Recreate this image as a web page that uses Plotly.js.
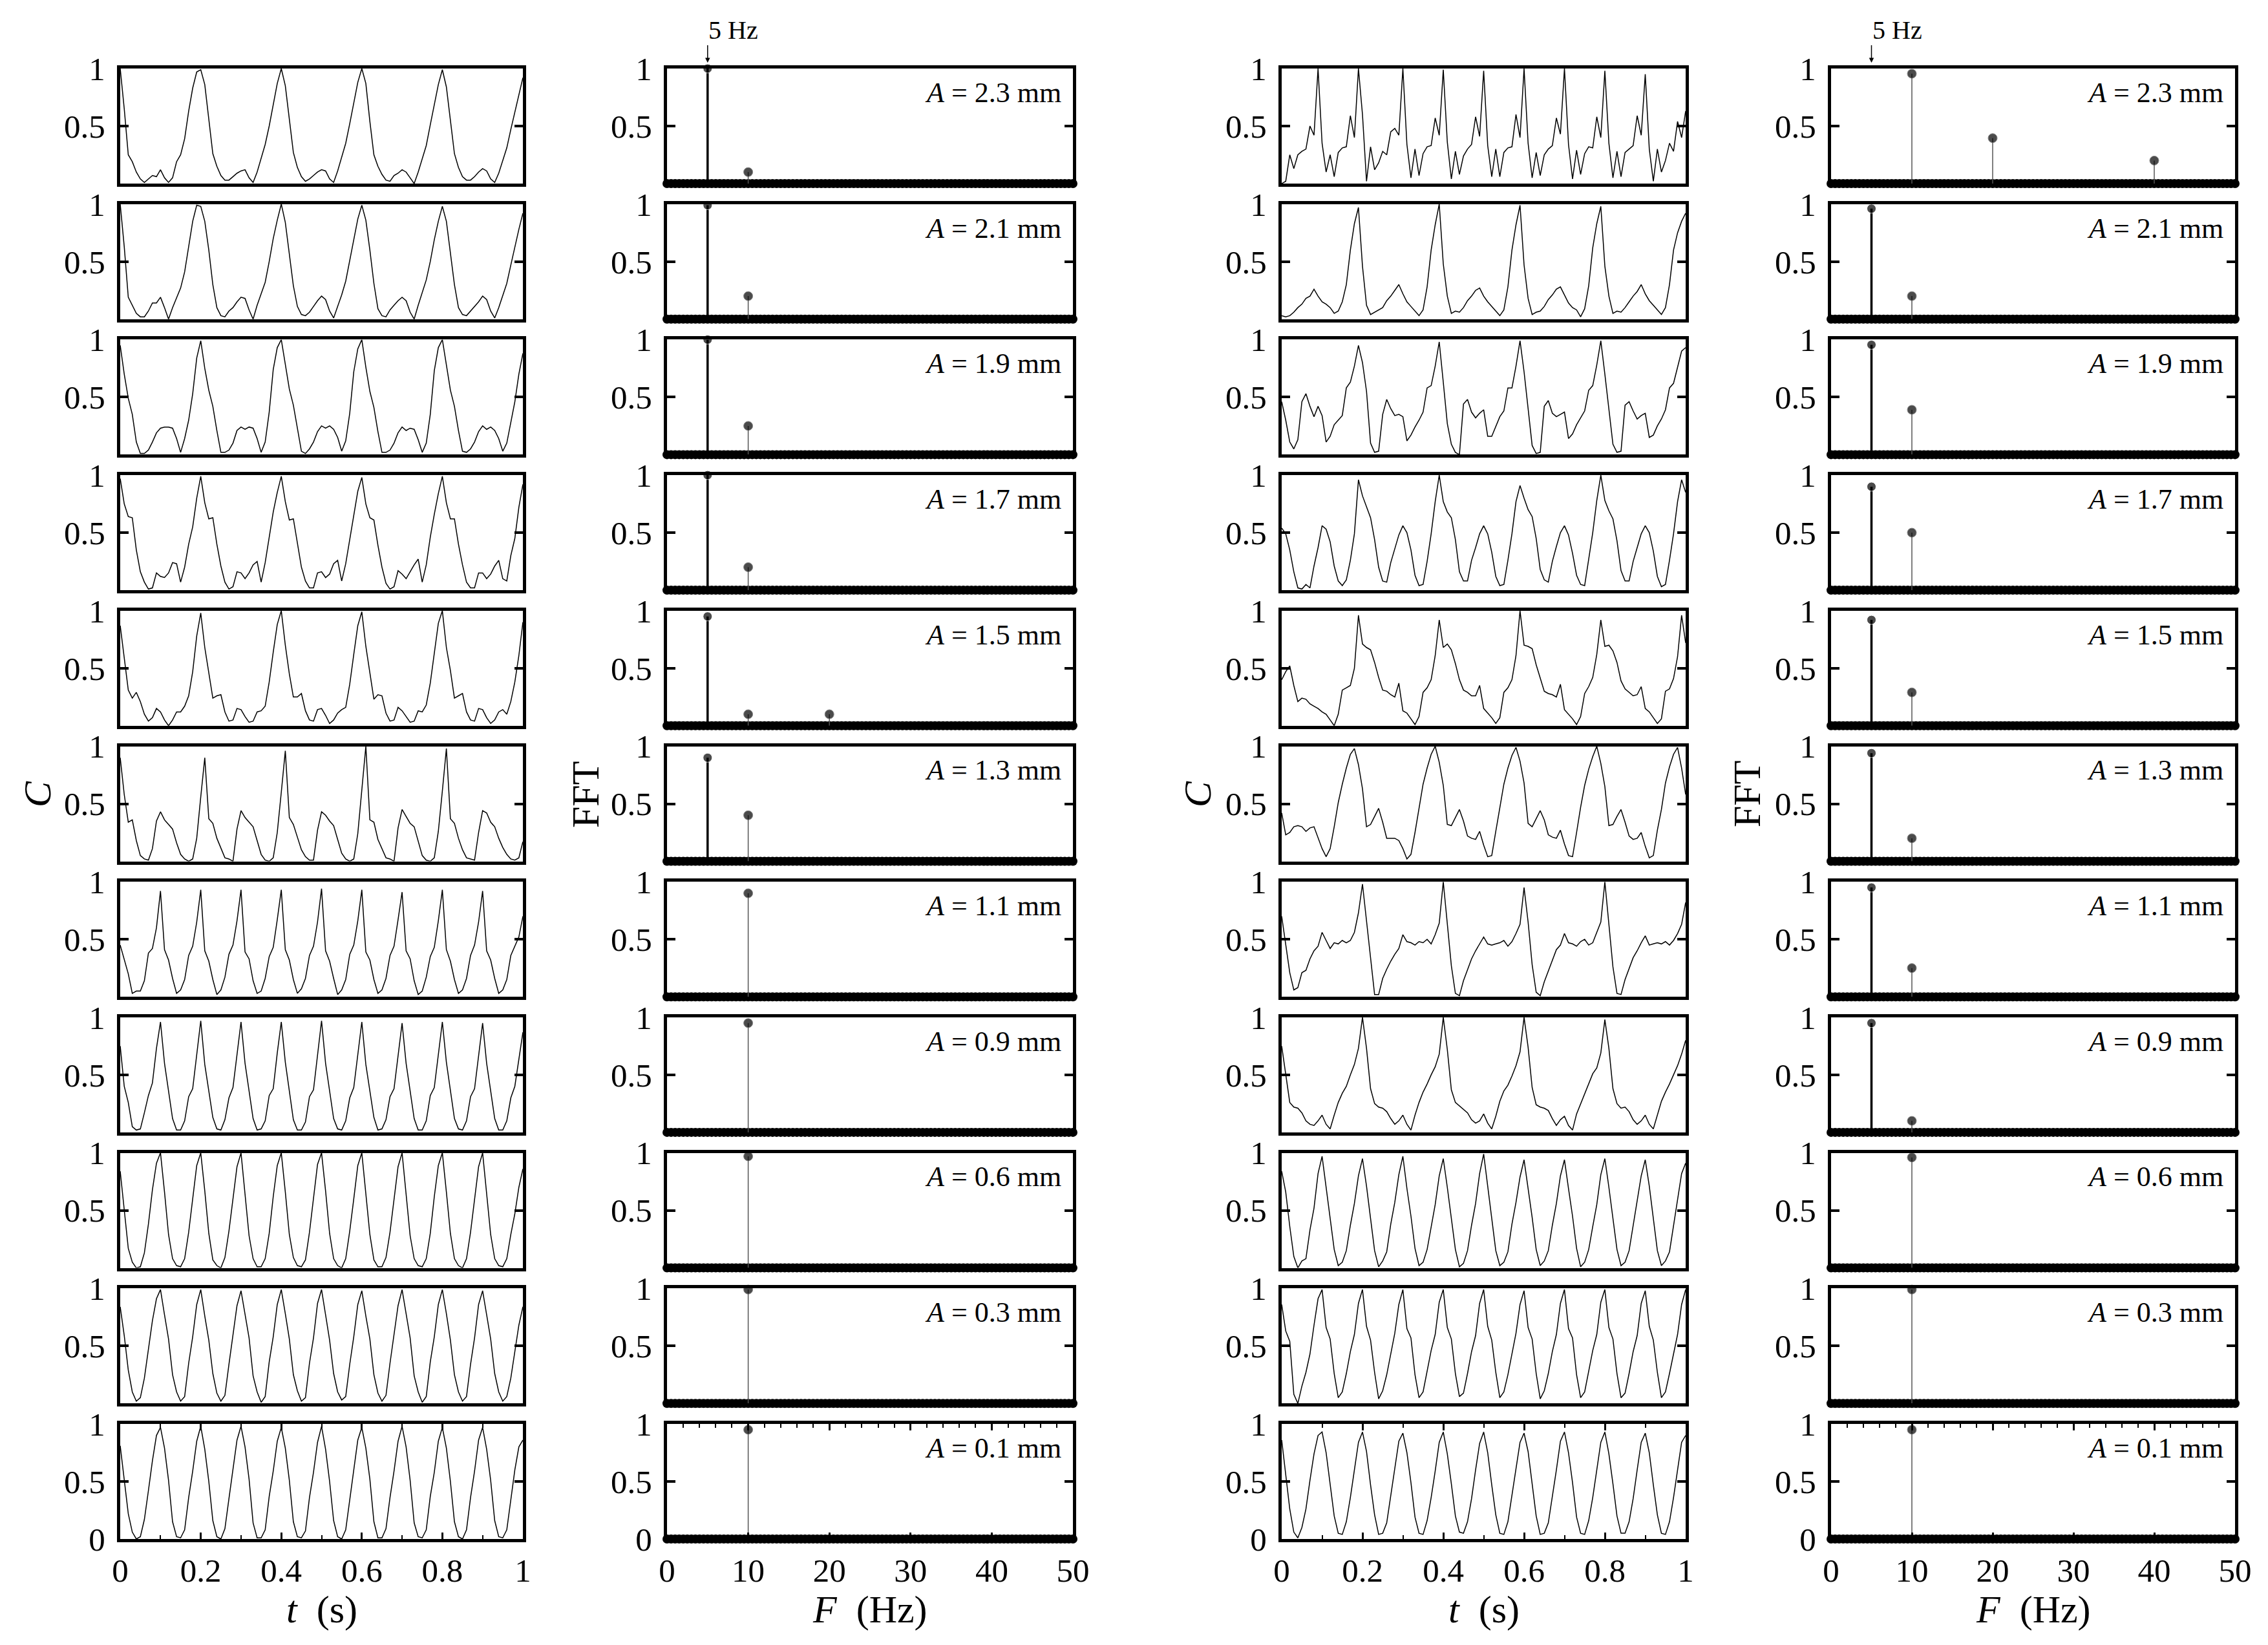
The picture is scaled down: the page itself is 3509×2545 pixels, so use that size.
<!DOCTYPE html>
<html>
<head>
<meta charset="utf-8">
<script src="https://cdn.plot.ly/plotly-3.0.1.min.js"></script>
<style>html,body{margin:0;padding:0;background:#fff;}#chart{width:3509px;height:2545px;}</style>
</head>
<body>
<div id="chart"></div>
<script>
// ---------------- DATA ----------------
const timeS = [0,0.01,0.02,0.03,0.04,0.05,0.06,0.07,0.08,0.09,0.1,0.11,0.12,0.13,0.14,0.15,0.16,0.17,0.18,0.19,
0.2,0.21,0.22,0.23,0.24,0.25,0.26,0.27,0.28,0.29,0.3,0.31,0.32,0.33,0.34,0.35,0.36,0.37,0.38,0.39,
0.4,0.41,0.42,0.43,0.44,0.45,0.46,0.47,0.48,0.49,0.5,0.51,0.52,0.53,0.54,0.55,0.56,0.57,0.58,0.59,
0.6,0.61,0.62,0.63,0.64,0.65,0.66,0.67,0.68,0.69,0.7,0.71,0.72,0.73,0.74,0.75,0.76,0.77,0.78,0.79,
0.8,0.81,0.82,0.83,0.84,0.85,0.86,0.87,0.88,0.89,0.9,0.91,0.92,0.93,0.94,0.95,0.96,0.97,0.98,0.99,1.0];

const ampLabels = ['2.3','2.1','1.9','1.7','1.5','1.3','1.1','0.9','0.6','0.3','0.1'];

const timeTickVals = [0,0.2,0.4,0.6,0.8,1];
const timeTickText = ['0','0.2','0.4','0.6','0.8','1'];
const freqTickVals = [0,10,20,30,40,50];
const freqTickText = ['0','10','20','30','40','50'];

// left time series (A = 2.3 ... 0.1 mm)
const cL_23 = [1.0,0.65,0.25,0.19,0.1,0.04,0.01,0.04,0.07,0.06,0.12,0.05,0.01,0.05,0.19,0.25,0.39,0.63,0.83,0.97,
0.99,0.86,0.55,0.26,0.15,0.07,0.03,0.03,0.06,0.09,0.11,0.12,0.05,0.01,0.1,0.22,0.34,0.5,0.68,0.87,
1.0,0.85,0.56,0.27,0.14,0.06,0.02,0.04,0.07,0.1,0.12,0.11,0.04,0.01,0.11,0.23,0.35,0.52,0.7,0.88,
1.0,0.87,0.54,0.25,0.15,0.08,0.03,0.02,0.07,0.09,0.12,0.1,0.05,0.0,0.1,0.21,0.33,0.51,0.69,0.86,
0.99,0.84,0.55,0.26,0.14,0.06,0.03,0.03,0.06,0.1,0.13,0.11,0.04,0.01,0.09,0.2,0.31,0.47,0.62,0.78,
0.92];
const cL_21 = [1.0,0.63,0.19,0.12,0.05,0.02,0.02,0.07,0.14,0.14,0.19,0.1,0.0,0.1,0.19,0.27,0.41,0.63,0.85,0.99,
0.98,0.85,0.6,0.3,0.1,0.03,0.02,0.07,0.1,0.15,0.19,0.18,0.08,0.0,0.12,0.22,0.32,0.5,0.7,0.86,
1.0,0.84,0.58,0.29,0.11,0.04,0.03,0.06,0.11,0.16,0.2,0.17,0.07,0.01,0.11,0.21,0.33,0.51,0.71,0.87,
0.99,0.86,0.6,0.31,0.09,0.03,0.02,0.08,0.12,0.16,0.19,0.16,0.06,0.0,0.12,0.23,0.34,0.5,0.69,0.85,
0.98,0.85,0.59,0.3,0.1,0.04,0.03,0.07,0.11,0.15,0.2,0.17,0.07,0.01,0.1,0.2,0.31,0.47,0.63,0.78,
0.92];
const cL_19 = [0.95,0.7,0.49,0.35,0.11,0.01,0.01,0.04,0.11,0.19,0.23,0.24,0.24,0.23,0.14,0.02,0.14,0.3,0.53,0.84,
0.99,0.75,0.56,0.42,0.21,0.02,0.02,0.04,0.1,0.21,0.24,0.22,0.24,0.23,0.14,0.02,0.11,0.37,0.74,0.93,
1.0,0.78,0.57,0.43,0.22,0.03,0.01,0.05,0.11,0.2,0.25,0.23,0.25,0.22,0.15,0.03,0.12,0.36,0.72,0.92,
1.0,0.76,0.55,0.41,0.2,0.02,0.02,0.04,0.1,0.19,0.24,0.21,0.23,0.22,0.13,0.02,0.1,0.35,0.73,0.93,
1.0,0.77,0.56,0.42,0.21,0.03,0.02,0.05,0.11,0.2,0.25,0.22,0.24,0.21,0.14,0.03,0.1,0.28,0.46,0.7,
0.88];
const cL_17 = [0.97,0.75,0.64,0.63,0.35,0.16,0.07,0.01,0.02,0.15,0.12,0.11,0.15,0.24,0.23,0.07,0.2,0.4,0.55,0.8,
0.99,0.76,0.62,0.63,0.4,0.21,0.07,0.01,0.03,0.16,0.15,0.1,0.15,0.22,0.25,0.07,0.24,0.45,0.68,0.85,
0.99,0.77,0.61,0.62,0.41,0.2,0.08,0.02,0.02,0.15,0.16,0.11,0.14,0.23,0.26,0.08,0.23,0.44,0.67,0.86,
0.98,0.75,0.63,0.61,0.39,0.2,0.06,0.01,0.03,0.17,0.14,0.1,0.16,0.22,0.27,0.07,0.22,0.46,0.66,0.84,
0.99,0.76,0.62,0.62,0.4,0.22,0.07,0.02,0.02,0.15,0.15,0.1,0.14,0.21,0.26,0.1,0.08,0.3,0.45,0.72,
0.92];
const cL_15 = [0.87,0.59,0.31,0.24,0.29,0.21,0.1,0.04,0.07,0.15,0.12,0.05,0.0,0.05,0.12,0.12,0.17,0.26,0.47,0.78,
0.98,0.68,0.47,0.24,0.26,0.27,0.12,0.04,0.05,0.15,0.14,0.08,0.03,0.04,0.12,0.13,0.17,0.38,0.64,0.88,
1.0,0.7,0.45,0.25,0.25,0.28,0.13,0.05,0.04,0.14,0.15,0.09,0.02,0.05,0.11,0.14,0.16,0.36,0.62,0.87,
0.99,0.69,0.46,0.23,0.27,0.26,0.11,0.04,0.05,0.16,0.13,0.08,0.03,0.04,0.13,0.12,0.18,0.37,0.63,0.89,
1.0,0.68,0.48,0.24,0.26,0.28,0.12,0.05,0.04,0.15,0.14,0.07,0.02,0.05,0.12,0.14,0.1,0.21,0.38,0.61,
0.9];
const cL_13 = [0.9,0.58,0.34,0.36,0.18,0.05,0.02,0.01,0.11,0.35,0.43,0.36,0.32,0.28,0.16,0.06,0.02,0.0,0.02,0.2,0.56,
0.9,0.37,0.33,0.2,0.11,0.03,0.02,0.0,0.28,0.44,0.38,0.34,0.3,0.18,0.06,0.01,0.0,0.03,0.25,0.6,
0.96,0.38,0.32,0.21,0.1,0.04,0.01,0.01,0.27,0.43,0.4,0.35,0.31,0.19,0.07,0.02,0.0,0.02,0.24,0.62,
1.0,0.36,0.34,0.19,0.11,0.03,0.02,0.0,0.29,0.45,0.39,0.33,0.3,0.17,0.05,0.01,0.0,0.03,0.26,0.61,
0.98,0.37,0.33,0.2,0.1,0.03,0.02,0.01,0.25,0.44,0.42,0.34,0.3,0.2,0.12,0.06,0.02,0.01,0.03,0.17];
const cL_11 = [0.45,0.33,0.2,0.03,0.05,0.05,0.14,0.38,0.42,0.6,
0.92,0.41,0.32,0.16,0.03,0.06,0.15,0.36,0.44,0.65,
0.93,0.4,0.31,0.15,0.02,0.06,0.17,0.37,0.45,0.66,
0.93,0.39,0.33,0.14,0.03,0.05,0.16,0.35,0.43,0.67,
0.93,0.41,0.32,0.15,0.03,0.07,0.16,0.36,0.44,0.65,
0.94,0.4,0.31,0.16,0.02,0.06,0.15,0.37,0.45,0.66,
0.93,0.39,0.32,0.15,0.03,0.06,0.16,0.36,0.44,0.67,
0.91,0.4,0.33,0.14,0.02,0.05,0.17,0.35,0.43,0.66,
0.93,0.41,0.31,0.15,0.03,0.06,0.16,0.36,0.45,0.65,
0.92,0.4,0.32,0.16,0.03,0.06,0.15,0.36,0.44,0.52,
0.7];
const cL_09 = [0.75,0.4,0.26,0.05,0.02,0.03,0.17,0.32,0.43,0.73,
0.96,0.6,0.36,0.12,0.02,0.02,0.1,0.31,0.38,0.68,
0.97,0.59,0.37,0.13,0.03,0.02,0.11,0.3,0.39,0.67,
0.96,0.6,0.35,0.12,0.02,0.03,0.1,0.32,0.38,0.69,
0.96,0.61,0.36,0.11,0.02,0.02,0.09,0.31,0.37,0.68,
0.97,0.6,0.37,0.12,0.03,0.02,0.1,0.3,0.39,0.68,
0.96,0.59,0.36,0.13,0.02,0.03,0.11,0.31,0.38,0.67,
0.95,0.6,0.35,0.12,0.02,0.02,0.1,0.32,0.39,0.69,
0.96,0.61,0.36,0.12,0.03,0.02,0.1,0.31,0.38,0.68,
0.95,0.6,0.36,0.12,0.02,0.02,0.1,0.3,0.4,0.65,
0.87];
const cL_06 = [0.84,0.49,0.17,0.05,0.0,0.01,0.13,0.38,0.68,0.91,
1.0,0.66,0.29,0.08,0.02,0.01,0.08,0.31,0.61,0.89,
1.0,0.67,0.3,0.07,0.02,0.0,0.09,0.32,0.6,0.88,
1.0,0.65,0.28,0.08,0.01,0.01,0.08,0.3,0.62,0.89,
1.0,0.66,0.29,0.09,0.02,0.01,0.07,0.31,0.61,0.9,
1.0,0.67,0.3,0.08,0.02,0.0,0.08,0.32,0.6,0.89,
1.0,0.66,0.29,0.07,0.01,0.01,0.09,0.31,0.61,0.88,
1.0,0.65,0.28,0.08,0.02,0.01,0.08,0.3,0.62,0.89,
1.0,0.66,0.3,0.08,0.02,0.0,0.08,0.31,0.6,0.88,
1.0,0.66,0.29,0.08,0.02,0.01,0.08,0.29,0.47,0.7,
0.86];
const cL_03 = [0.84,0.59,0.29,0.1,0.02,0.05,0.22,0.47,0.72,0.91,
0.99,0.77,0.56,0.25,0.1,0.02,0.06,0.35,0.58,0.86,
0.99,0.76,0.55,0.26,0.09,0.02,0.07,0.34,0.59,0.85,
0.98,0.77,0.57,0.24,0.1,0.01,0.06,0.36,0.58,0.86,
0.99,0.78,0.56,0.25,0.11,0.02,0.05,0.35,0.57,0.87,
0.99,0.77,0.55,0.26,0.1,0.03,0.06,0.34,0.58,0.86,
0.98,0.76,0.56,0.25,0.09,0.02,0.07,0.35,0.59,0.85,
0.99,0.77,0.57,0.24,0.1,0.01,0.06,0.36,0.58,0.86,
0.99,0.78,0.55,0.25,0.1,0.02,0.06,0.34,0.57,0.86,
0.98,0.77,0.56,0.26,0.1,0.02,0.06,0.22,0.45,0.68,
0.84];
const cL_01 = [0.81,0.51,0.22,0.06,0.0,0.02,0.17,0.42,0.68,0.9,
0.97,0.79,0.51,0.15,0.02,0.01,0.08,0.36,0.59,0.85,
0.98,0.78,0.5,0.16,0.02,0.0,0.09,0.35,0.6,0.86,
0.98,0.8,0.52,0.14,0.01,0.01,0.08,0.37,0.59,0.85,
0.97,0.79,0.51,0.15,0.02,0.01,0.07,0.36,0.58,0.84,
0.98,0.78,0.5,0.16,0.02,0.0,0.08,0.35,0.6,0.86,
0.97,0.79,0.52,0.15,0.01,0.01,0.09,0.36,0.59,0.85,
0.98,0.8,0.51,0.14,0.02,0.01,0.08,0.37,0.58,0.85,
0.97,0.79,0.5,0.15,0.02,0.0,0.08,0.36,0.59,0.86,
0.97,0.78,0.51,0.16,0.02,0.01,0.08,0.35,0.6,0.8,
0.86];

// right time series (A = 2.3 ... 0.1 mm)
const cR_23 = [0.0,0.02,0.25,0.13,0.25,0.28,0.3,0.5,0.42,
1.0,0.35,0.1,0.25,0.06,0.27,0.31,0.32,0.59,0.4,
1.0,0.6,0.02,0.32,0.12,0.18,0.28,0.25,0.45,0.48,0.42,
1.0,0.34,0.05,0.3,0.07,0.26,0.32,0.33,0.57,0.42,
0.99,0.36,0.04,0.28,0.08,0.24,0.3,0.34,0.58,0.41,
0.98,0.33,0.06,0.3,0.06,0.27,0.31,0.32,0.6,0.4,
1.0,0.35,0.05,0.27,0.07,0.25,0.3,0.33,0.57,0.43,
1.0,0.34,0.04,0.29,0.08,0.26,0.32,0.31,0.58,0.4,
0.98,0.35,0.05,0.28,0.06,0.27,0.3,0.33,0.59,0.42,
0.95,0.3,0.02,0.3,0.1,0.2,0.35,0.28,0.54,0.4,
0.63];
const cR_21 = [0.03,0.02,0.03,0.06,0.1,0.13,0.18,0.2,0.26,0.2,0.15,0.13,0.1,0.05,0.07,0.15,0.3,0.6,0.83,
0.97,0.46,0.12,0.04,0.06,0.08,0.1,0.16,0.2,0.25,0.3,0.22,0.15,0.11,0.07,0.03,0.08,0.28,0.6,0.82,
1.0,0.48,0.2,0.05,0.07,0.06,0.1,0.16,0.2,0.25,0.27,0.2,0.15,0.11,0.07,0.03,0.08,0.28,0.6,0.82,
0.99,0.47,0.18,0.04,0.06,0.07,0.11,0.17,0.21,0.26,0.28,0.21,0.14,0.1,0.08,0.02,0.09,0.29,0.62,0.83,
0.98,0.46,0.2,0.05,0.07,0.06,0.1,0.15,0.2,0.24,0.3,0.22,0.16,0.12,0.08,0.04,0.1,0.3,0.6,0.75,
0.85,0.92];
const cR_19 = [0.46,0.3,0.11,0.05,0.13,0.46,0.53,0.42,0.33,0.42,0.34,0.11,0.16,0.26,0.3,0.34,0.58,0.63,0.77,
0.95,0.8,0.55,0.1,0.02,0.03,0.35,0.48,0.4,0.34,0.35,0.33,0.12,0.17,0.24,0.3,0.37,0.58,0.6,0.77,
0.98,0.63,0.27,0.09,0.02,0.0,0.44,0.48,0.37,0.32,0.36,0.39,0.16,0.16,0.25,0.33,0.38,0.58,0.58,0.77,
0.99,0.72,0.4,0.08,0.01,0.02,0.42,0.47,0.36,0.33,0.35,0.37,0.14,0.18,0.26,0.32,0.38,0.56,0.6,0.78,
0.99,0.7,0.38,0.09,0.02,0.03,0.43,0.46,0.38,0.31,0.34,0.36,0.15,0.17,0.25,0.31,0.39,0.58,0.62,0.76,
0.9,0.93];
const cR_17 = [0.54,0.49,0.35,0.16,0.02,0.01,0.05,0.02,0.21,0.37,0.56,0.53,0.42,0.21,0.08,0.04,0.09,0.26,0.49,
0.96,0.82,0.73,0.63,0.44,0.2,0.08,0.07,0.24,0.36,0.48,0.56,0.5,0.35,0.13,0.04,0.05,0.25,0.49,0.77,
1.0,0.77,0.68,0.63,0.44,0.16,0.08,0.08,0.26,0.37,0.49,0.56,0.49,0.33,0.12,0.04,0.05,0.26,0.49,0.77,
0.91,0.8,0.7,0.64,0.45,0.18,0.09,0.07,0.25,0.38,0.5,0.56,0.48,0.32,0.13,0.05,0.04,0.27,0.5,0.78,
1.0,0.78,0.69,0.62,0.43,0.17,0.08,0.08,0.25,0.37,0.49,0.56,0.5,0.34,0.12,0.03,0.05,0.26,0.49,0.77,
0.96,0.85];
const cR_15 = [0.4,0.47,0.52,0.35,0.21,0.24,0.23,0.19,0.17,0.15,0.12,0.1,0.05,0.0,0.1,0.31,0.33,0.35,0.5,
0.96,0.71,0.68,0.66,0.55,0.42,0.31,0.3,0.27,0.25,0.37,0.13,0.11,0.06,0.01,0.08,0.29,0.33,0.4,0.61,
0.92,0.68,0.71,0.66,0.54,0.4,0.31,0.29,0.26,0.26,0.35,0.15,0.11,0.07,0.02,0.07,0.29,0.33,0.4,0.61,
1.0,0.7,0.69,0.67,0.53,0.41,0.3,0.28,0.27,0.25,0.36,0.14,0.1,0.06,0.01,0.08,0.28,0.34,0.42,0.62,
0.92,0.69,0.7,0.65,0.55,0.39,0.32,0.29,0.26,0.27,0.34,0.15,0.12,0.07,0.02,0.06,0.3,0.32,0.41,0.6,
0.96,0.72];
const cR_13 = [0.42,0.23,0.25,0.3,0.31,0.3,0.26,0.29,0.3,0.2,0.11,0.04,0.11,0.3,0.51,0.67,0.81,0.93,
0.98,0.84,0.63,0.3,0.32,0.39,0.46,0.34,0.2,0.2,0.2,0.18,0.11,0.02,0.06,0.25,0.46,0.67,0.81,0.93,
1.0,0.86,0.66,0.32,0.31,0.38,0.45,0.35,0.22,0.2,0.19,0.26,0.14,0.04,0.05,0.26,0.46,0.67,0.81,0.92,
0.99,0.87,0.68,0.33,0.3,0.37,0.44,0.36,0.23,0.21,0.2,0.27,0.15,0.05,0.04,0.25,0.47,0.66,0.8,0.91,
1.0,0.85,0.65,0.31,0.32,0.39,0.45,0.34,0.22,0.19,0.2,0.25,0.13,0.03,0.05,0.27,0.45,0.68,0.82,0.93,
0.99,0.81,0.58];
const cR_11 = [0.7,0.44,0.21,0.06,0.08,0.21,0.23,0.33,0.4,0.44,0.56,0.49,0.42,0.47,0.46,0.49,0.47,0.49,0.56,0.73,
0.98,0.66,0.33,0.02,0.02,0.16,0.24,0.31,0.37,0.42,0.54,0.48,0.47,0.45,0.48,0.47,0.5,0.46,0.54,0.64,
1.0,0.64,0.27,0.03,0.01,0.14,0.23,0.33,0.4,0.46,0.52,0.46,0.45,0.46,0.47,0.49,0.44,0.48,0.55,0.63,
0.95,0.65,0.28,0.04,0.01,0.13,0.22,0.32,0.41,0.45,0.55,0.47,0.46,0.44,0.48,0.5,0.45,0.47,0.56,0.65,
1.0,0.63,0.26,0.03,0.02,0.15,0.24,0.34,0.4,0.47,0.53,0.45,0.46,0.47,0.46,0.48,0.45,0.49,0.55,0.63,
0.82];
const cR_09 = [0.75,0.5,0.26,0.22,0.21,0.17,0.1,0.07,0.06,0.1,0.15,0.07,0.03,0.15,0.26,0.34,0.4,0.5,0.59,0.73,
1.0,0.73,0.38,0.25,0.22,0.21,0.18,0.12,0.07,0.1,0.15,0.07,0.02,0.15,0.26,0.35,0.42,0.5,0.57,0.68,
1.0,0.72,0.37,0.26,0.23,0.2,0.17,0.11,0.08,0.1,0.16,0.08,0.03,0.14,0.27,0.36,0.41,0.49,0.58,0.7,
1.0,0.74,0.39,0.24,0.22,0.21,0.19,0.12,0.06,0.11,0.14,0.06,0.02,0.16,0.25,0.34,0.43,0.51,0.56,0.69,
0.98,0.73,0.38,0.25,0.21,0.22,0.18,0.11,0.07,0.1,0.15,0.07,0.03,0.15,0.27,0.35,0.42,0.5,0.58,0.68,
0.8];
const cR_06 = [0.84,0.66,0.36,0.1,0.0,0.06,0.08,0.33,0.52,0.82,
0.97,0.7,0.44,0.16,0.02,0.05,0.15,0.37,0.56,0.8,
0.95,0.71,0.43,0.15,0.01,0.06,0.14,0.38,0.57,0.81,
0.97,0.69,0.45,0.17,0.02,0.05,0.16,0.36,0.55,0.8,
0.95,0.7,0.44,0.16,0.01,0.04,0.15,0.37,0.56,0.82,
0.99,0.71,0.43,0.15,0.02,0.05,0.14,0.38,0.57,0.79,
0.94,0.7,0.44,0.16,0.02,0.06,0.15,0.37,0.56,0.8,
0.94,0.69,0.45,0.17,0.01,0.05,0.16,0.36,0.55,0.81,
0.95,0.7,0.44,0.16,0.02,0.05,0.15,0.37,0.57,0.8,
0.94,0.71,0.43,0.15,0.02,0.06,0.14,0.36,0.6,0.82,
0.91];
const cR_03 = [0.86,0.63,0.54,0.08,0.0,0.15,0.27,0.43,0.68,0.91,
0.99,0.66,0.56,0.26,0.05,0.1,0.26,0.45,0.6,0.87,
0.99,0.67,0.55,0.27,0.04,0.11,0.25,0.44,0.61,0.86,
0.99,0.65,0.57,0.25,0.05,0.1,0.27,0.46,0.6,0.88,
0.99,0.66,0.56,0.26,0.06,0.09,0.26,0.45,0.59,0.87,
0.99,0.67,0.55,0.27,0.05,0.1,0.25,0.44,0.61,0.86,
0.98,0.66,0.56,0.26,0.04,0.11,0.26,0.45,0.6,0.87,
0.99,0.65,0.57,0.25,0.05,0.1,0.27,0.46,0.6,0.88,
0.99,0.66,0.56,0.26,0.05,0.09,0.26,0.45,0.59,0.87,
0.98,0.67,0.55,0.27,0.05,0.1,0.26,0.44,0.6,0.86,
0.99];
const cR_01 = [0.86,0.56,0.26,0.06,0.01,0.1,0.26,0.51,0.74,0.9,
0.93,0.75,0.48,0.2,0.05,0.04,0.15,0.36,0.6,0.84,
0.93,0.76,0.47,0.21,0.04,0.05,0.14,0.37,0.61,0.85,
0.92,0.75,0.49,0.19,0.05,0.04,0.16,0.36,0.59,0.84,
0.93,0.74,0.48,0.2,0.06,0.05,0.15,0.35,0.6,0.83,
0.93,0.75,0.47,0.21,0.05,0.04,0.15,0.37,0.61,0.84,
0.92,0.76,0.48,0.2,0.04,0.05,0.14,0.36,0.6,0.85,
0.93,0.75,0.49,0.19,0.05,0.04,0.16,0.36,0.59,0.84,
0.93,0.74,0.48,0.2,0.05,0.05,0.15,0.35,0.6,0.84,
0.92,0.75,0.47,0.21,0.05,0.04,0.15,0.36,0.6,0.84,
0.9];

const seriesLeft  = [cL_23,cL_21,cL_19,cL_17,cL_15,cL_13,cL_11,cL_09,cL_06,cL_03,cL_01];
const seriesRight = [cR_23,cR_21,cR_19,cR_17,cR_15,cR_13,cR_11,cR_09,cR_06,cR_03,cR_01];

// FFT: frequency bins (0.5 Hz) with ~zero amplitude (the baseline), and the peaks
const fftBins = [0,0.5,1,1.5,2,2.5,3,3.5,4,4.5,5,5.5,6,6.5,7,7.5,8,8.5,9,9.5,10,10.5,11,11.5,12,12.5,13,13.5,14,14.5,
15,15.5,16,16.5,17,17.5,18,18.5,19,19.5,20,20.5,21,21.5,22,22.5,23,23.5,24,24.5,25,25.5,26,26.5,27,27.5,28,28.5,29,29.5,
30,30.5,31,31.5,32,32.5,33,33.5,34,34.5,35,35.5,36,36.5,37,37.5,38,38.5,39,39.5,40,40.5,41,41.5,42,42.5,43,43.5,44,44.5,
45,45.5,46,46.5,47,47.5,48,48.5,49,49.5,50];
const fftFloor = [0,0,0,0,0,0,0,0,0,0,0,0,0,0,0,0,0,0,0,0,0,0,0,0,0,0,0,0,0,0,
0,0,0,0,0,0,0,0,0,0,0,0,0,0,0,0,0,0,0,0,0,0,0,0,0,0,0,0,0,0,
0,0,0,0,0,0,0,0,0,0,0,0,0,0,0,0,0,0,0,0,0,0,0,0,0,0,0,0,0,0,
0,0,0,0,0,0,0,0,0,0,0];
// amplitude per row (A = 2.3 ... 0.1 mm); null = no peak
const fftLeft5   = [1.0,0.99,1.0,1.0,0.95,0.9,null,null,null,null,null];
const fftLeft10  = [0.1,0.2,0.25,0.2,0.1,0.4,0.9,0.95,0.97,0.99,0.95];
const fftLeft20  = [null,null,null,null,0.1,null,null,null,null,null,null];
const fftRight5  = [null,0.96,0.955,0.9,0.92,0.94,0.95,0.95,null,null,null];
const fftRight10 = [0.955,0.2,0.39,0.5,0.29,0.2,0.25,0.1,0.96,0.99,0.95];
const fftRight20 = [0.395,null,null,null,null,null,null,null,null,null,null];
const fftRight40 = [0.2,null,null,null,null,null,null,null,null,null,null];

// ---------------- LAYOUT ----------------
const W = 3509, H = 2545;
const FONT = "'Liberation Serif', 'Times New Roman', Times, serif";
const colPx = [[186,809],[1032,1660],[1983,2608],[2833,3458]];
const rowTop0 = 106, rowPitch = 209.7, rowH = 178;

const layout = {
  width: W, height: H, autosize: false,
  margin: {l:0, r:0, t:0, b:0, pad:0},
  paper_bgcolor: '#fff', plot_bgcolor: '#fff',
  showlegend: false, hovermode: false,
  font: {family: FONT, color: '#000', size: 50},
  annotations: []
};
const traces = [];

for (let r = 0; r < 11; r++) {
  const top = rowTop0 + r * rowPitch;
  const bot = top + rowH;
  for (let c = 0; c < 4; c++) {
    const n = r * 4 + c + 1;
    const xs = n === 1 ? '' : String(n);
    const isTime = (c % 2 === 0);
    const last = (r === 10);
    layout['xaxis' + xs] = {
      domain: [colPx[c][0] / W, colPx[c][1] / W],
      range: isTime ? [0, 1] : [0, 50],
      anchor: 'y' + xs,
      showline: true, mirror: last ? 'allticks' : true, linewidth: 5, linecolor: '#000',
      showgrid: false, zeroline: false, fixedrange: true,
      ticks: last ? 'inside' : '', ticklen: 10, tickwidth: 3, tickcolor: '#000',
      showticklabels: last,
      tickvals: isTime ? timeTickVals : freqTickVals,
      ticktext: isTime ? timeTickText : freqTickText,
      tickfont: {family: FONT, size: 51, color: '#000'},
      ticklabelstandoff: 0,
      minor: last ? {dtick: isTime ? 0.1 : 2, ticks: 'inside', ticklen: 6, tickwidth: 2, tickcolor: '#000', showgrid: false} : undefined
    };
    layout['yaxis' + xs] = {
      domain: [(H - bot) / H, (H - top) / H],
      range: [0, 1],
      anchor: 'x' + xs,
      showline: true, mirror: 'allticks', linewidth: 5, linecolor: '#000',
      showgrid: false, zeroline: false, fixedrange: true,
      ticks: 'inside', ticklen: 13, tickwidth: 4, tickcolor: '#000',
      tickvals: last ? [0, 0.5, 1] : [0.5, 1],
      ticktext: last ? ['0', '0.5', '1'] : ['0.5', '1'],
      tickfont: {family: FONT, size: 51, color: '#000'},
      ticklabelstandoff: 8
    };

    if (isTime) {
      const y = (c === 0 ? seriesLeft : seriesRight)[r];
      traces.push({x: timeS, y: y, xaxis: 'x' + xs, yaxis: 'y' + xs, type: 'scatter',
        mode: 'lines', line: {color: '#000', width: 1.5}, hoverinfo: 'skip'});
    } else {
      traces.push({x: fftBins, y: fftFloor, xaxis: 'x' + xs, yaxis: 'y' + xs, type: 'scatter',
        mode: 'markers', marker: {color: '#000', size: 14, line: {width: 0}},
        cliponaxis: false, hoverinfo: 'skip'});
      const peaks = (c === 1)
        ? [[5, fftLeft5[r]], [10, fftLeft10[r]], [20, fftLeft20[r]]]
        : [[5, fftRight5[r]], [10, fftRight10[r]], [20, fftRight20[r]], [40, fftRight40[r]]];
      peaks.forEach(([f, a]) => {
        if (a === null) return;
        const thick = (f === 5);
        traces.push({x: [f, f], y: [0, a], xaxis: 'x' + xs, yaxis: 'y' + xs, type: 'scatter',
          mode: 'lines+markers', cliponaxis: false, hoverinfo: 'skip',
          line: {color: thick ? '#000' : '#555', width: thick ? 3.5 : 1.5},
          marker: {color: '#000', size: [0, 14]}});
      });
      layout.annotations.push({
        xref: 'x' + xs + ' domain', yref: 'y' + xs + ' domain', x: 0.975, y: 0.79,
        xanchor: 'right', yanchor: 'middle', showarrow: false,
        text: '<i>A</i> = ' + ampLabels[r] + ' mm',
        font: {family: FONT, size: 44, color: '#000'}
      });
      if (r === 0) {
        layout.annotations.push({
          xref: 'x' + xs, yref: 'y' + xs, x: 5, y: 1, ax: 0, ay: -36,
          showarrow: true, arrowhead: 2, arrowsize: 1, arrowwidth: 1.5, arrowcolor: '#000',
          standoff: 9, xanchor: 'left', yanchor: 'bottom', borderpad: 0,
          text: '5 Hz', font: {family: FONT, size: 40, color: '#000'}
        });
      }
    }
  }
}

// axis titles
const titleFont = {family: FONT, size: 60, color: '#000'};
[[0, '<i>t</i>  (s)'], [1, '<i>F</i>  (Hz)'], [2, '<i>t</i>  (s)'], [3, '<i>F</i>  (Hz)']].forEach(([c, txt]) => {
  layout.annotations.push({xref: 'paper', yref: 'paper', x: (colPx[c][0] + colPx[c][1]) / 2 / W, y: 1 - 2490 / H,
    xanchor: 'center', yanchor: 'middle', showarrow: false, text: txt, font: titleFont});
});
[[58, '<i>C</i>'], [906, 'FFT'], [1853, '<i>C</i>'], [2703, 'FFT']].forEach(([px, txt]) => {
  layout.annotations.push({xref: 'paper', yref: 'paper', x: px / W, y: 1 - 1229 / H,
    xanchor: 'center', yanchor: 'middle', showarrow: false, textangle: -90, text: txt, font: titleFont});
});

Plotly.newPlot('chart', traces, layout, {staticPlot: true, displayModeBar: false});
</script>
</body>
</html>
